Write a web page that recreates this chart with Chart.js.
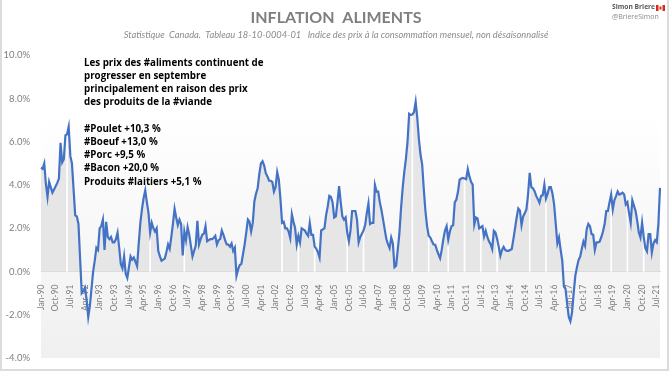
<!DOCTYPE html>
<html>
<head>
<meta charset="utf-8">
<script src="https://cdn.jsdelivr.net/npm/chart.js@4"></script>
<style>
  html, body { margin: 0; padding: 0; background: #fff; }
  #wrap { position: relative; width: 672px; height: 373px; }
  #frame { position: absolute; left: 0; top: 0; width: 665px; height: 369px;
           border-left: 2px solid #dcdcdc; border-right: 2px solid #dcdcdc; border-bottom: 2px solid #dcdcdc; }
</style>
</head>
<body>
<div id="wrap">
  <canvas id="chart" width="672" height="373"></canvas>
  <div id="frame"></div>
</div>
<script>
const inflation = [
  4.8, 4.75, 5.0, 4.05, 3.45, 4.15, 3.9, 3.65, 3.8, 3.95, 4.1, 4.3,
  5.95, 5.05, 5.2, 6.3, 6.35, 6.7, 5.35, 5.0, 3.8, 2.6, 2.55, 2.2,
  0.6, -1.0, -0.9, -0.75, -1.3, -2.1, -1.6, -0.8, 0.0, 0.5, 1.1, 1.0,
  2.0, 2.1, 2.4, 1.0, 2.3, 1.6, 1.5, 1.6, 1.35, 1.35, 1.5, 1.8,
  1.1, 0.35, 0.15, 0.7, -0.1, -0.3, 0.2, 0.7, 0.55, 0.65, 0.45, 0.25,
  1.3, 2.25, 2.9, 3.4, 3.75, 3.2, 2.7, 1.8, 2.25, 2.0, 1.85, 2.0,
  0.95, 0.7, 0.5, 0.55, 0.6, 0.9, 1.25, 1.05, 1.6, 2.2, 2.9, 2.5,
  2.15, 2.4, 2.2, 0.75, 1.85, 1.45, 2.05, 1.7, 1.2, 0.7, 0.95, 1.2,
  2.35, 1.25, 1.5, 1.7, 1.75, 2.1, 1.4, 1.45, 1.5, 1.5, 1.55, 1.65,
  1.25, 1.45, 1.5, 1.9, 1.7, 1.45, 1.25, 1.25, 1.15, 1.3, 0.95, 1.1,
  -0.2, 0.1, 0.3, 0.35, 0.8, 1.25, 1.8, 2.4, 2.3, 1.85, 2.25, 3.25,
  3.6, 3.85, 4.5, 5.0, 5.1, 4.9, 4.55, 4.4, 4.2, 4.2, 4.15, 3.7,
  3.9, 4.6, 4.25, 3.35, 2.25, 2.3, 2.0, 2.0, 1.85, 1.55, 2.65, 2.3,
  2.0, 1.25, 1.65, 1.35, 2.0, 1.95, 1.9, 1.75, 1.65, 2.25, 1.7, 1.7,
  1.15, 1.05, 0.9, 0.65, 1.9, 1.95, 2.0, 2.6, 3.0, 3.5, 3.45, 3.2,
  2.5, 2.55, 3.2, 3.95, 3.2, 2.55, 2.4, 2.5, 1.8, 1.4, 1.9, 2.8,
  2.8, 2.8, 2.4, 1.35, 1.6, 1.75, 1.9, 2.15, 2.7, 3.15, 2.2, 2.25,
  2.25, 4.0, 3.7, 3.7, 3.2, 2.85, 2.4, 1.95, 1.5, 1.27, 1.08, 1.57,
  1.3, 0.2, 0.27, 1.0, 1.75, 2.9, 3.85, 4.6, 5.2, 6.0, 7.3, 7.25,
  7.26, 7.38, 7.85, 7.1, 6.1, 5.4, 4.95, 3.8, 2.8, 2.1, 1.65, 1.57,
  1.4, 1.25, 1.24, 1.0, 0.8, 0.62, 1.0, 1.5, 1.9, 2.1, 1.47, 1.85,
  2.1, 2.14, 3.2, 3.33, 3.7, 4.25, 4.3, 4.33, 4.3, 4.27, 4.74, 4.4,
  4.15, 4.02, 2.18, 2.5, 2.46, 2.0, 2.05, 2.1, 1.62, 1.88, 1.6, 1.4,
  1.27, 1.04, 1.88, 1.8, 1.5, 1.14, 0.73, 1.0, 1.14, 1.0, 0.96, 0.96,
  1.0, 1.04, 1.5, 2.0, 2.5, 2.92, 2.83, 2.14, 2.55, 2.7, 2.87, 3.56,
  4.56, 3.9, 3.85, 3.72, 3.5, 3.35, 3.18, 3.5, 3.53, 4.02, 3.38, 3.6,
  3.9, 3.9, 3.6, 3.1, 2.2, 1.3, 1.57, 1.0, 0.5, -0.7, -0.8, -1.5,
  -2.1, -2.3, -1.9, -1.0, -0.2, 0.2, 0.53, 0.69, 1.05, 1.39, 1.19, 1.96,
  2.2, 2.1, 1.73, 1.7, 1.0, 1.35, 1.35, 1.39, 1.6, 1.85, 2.2, 2.8,
  2.8, 3.2, 3.56, 2.87, 3.3, 3.49, 3.7, 3.56, 3.6, 3.65, 3.56, 3.1,
  3.2, 2.7, 2.26, 3.3, 3.05, 2.8, 2.35, 1.8, 1.57, 2.26, 1.6, 1.08,
  0.93, 1.73, 1.73, 0.88, 1.3, 1.45, 1.35, 2.2, 3.87
];
const monthNames = ["Jan", "Feb", "Mar", "Apr", "May", "Jun", "Jul", "Aug", "Sep", "Oct", "Nov", "Dec"];
const categories = inflation.map((v, i) => monthNames[i % 12] + "-" + String((90 + Math.floor(i / 12)) % 100).padStart(2, "0"));
const gapMonths = [16, 67, 88, 148, 158, 168, 188, 198, 228, 238, 250, 260, 270, 280, 300, 310, 350, 360, 370];
const noteLines = [
  "Les prix des #aliments continuent de",
  "progresser en septembre",
  "principalement en raison des prix",
  "des produits de la #viande",
  "",
  "#Poulet +10,3 %",
  "#Boeuf +13,0 %",
  "#Porc +9,5 %",
  "#Bacon +20,0 %",
  "Produits #laitiers +5,1 %"
];

const decor = {
  id: "decor",
  beforeDraw(chart) {
    const c = chart.ctx, a = chart.chartArea;
    const g = c.createLinearGradient(0, a.top, 0, a.bottom);
    g.addColorStop(0, "#ffffff");
    g.addColorStop(0.2, "#ffffff");
    g.addColorStop(1, "#f0f0f0");
    c.fillStyle = g;
    c.fillRect(a.left, a.top, a.right - a.left, a.bottom - a.top);
  },
  afterDraw(chart) {
    const c = chart.ctx;
    c.save();
    c.textBaseline = "middle";
    c.textAlign = "left";
    c.fillStyle = "#000";
    c.font = "bold 9.75px 'Open Sans'";
    noteLines.forEach((t, i) => c.fillText(t, 84, 63 + i * 13.2));
    c.fillStyle = "#595959";
    c.font = "bold 6.7px 'Open Sans'";
    c.fillText("Simon Briere", 612, 7);
    c.fillStyle = "#8c8c8c";
    c.font = "7px 'Open Sans'";
    c.fillText("@BriereSimon", 612, 17);
    c.fillStyle = "#d52b1e";
    c.fillRect(656, 5, 9, 6);
    c.fillStyle = "#fff";
    c.fillRect(658.5, 5, 4, 6);
    c.fillStyle = "#d52b1e";
    c.fillRect(659.5, 6.5, 2, 3);
    c.restore();
  }
};

new Chart(document.getElementById("chart"), {
  type: "line",
  data: {
    labels: categories,
    datasets: [
      {
        data: inflation,
        order: 3,
        borderWidth: 0,
        pointRadius: 0,
        fill: { target: "origin", above: "#e6e6e6", below: "rgba(0,0,0,0)" }
      },
      {
        type: "bar",
        data: inflation.map((v, i) => (gapMonths.includes(i) ? v : null)),
        order: 2,
        backgroundColor: "#ffffff",
        barThickness: 1
      },
      {
        data: inflation,
        order: 1,
        borderColor: "#4472C4",
        borderWidth: 2.2,
        pointRadius: 0,
        tension: 0,
        fill: false
      }
    ]
  },
  options: {
    responsive: false,
    animation: false,
    layout: { padding: { left: 0, right: 0, bottom: 15 } },
    plugins: {
      legend: { display: false },
      tooltip: { enabled: false },
      title: {
        display: true,
        text: "INFLATION  ALIMENTS",
        color: "#7f7f7f",
        font: { family: "Lato", size: 16, weight: "bold" },
        padding: { top: 8, bottom: 2 }
      },
      subtitle: {
        display: true,
        text: "Statistique  Canada.  Tableau 18-10-0004-01   Indice des prix à la consommation mensuel, non désaisonnalisé",
        color: "#8c8c8c",
        font: { family: "Lato", size: 9.3, style: "italic" },
        padding: { top: 0, bottom: 15 }
      }
    },
    scales: {
      x: {
        position: { y: 0 },
        offset: false,
        grid: { display: false },
        border: { color: "#d9d9d9" },
        ticks: {
          autoSkip: false,
          minRotation: 90,
          maxRotation: 90,
          padding: 5,
          color: "#7f7f7f",
          font: { family: "Lato", size: 8.5 },
          callback(value, index) { return index % 9 === 0 ? categories[index] : null; }
        }
      },
      y: {
        min: -4,
        max: 10,
        afterFit(scale) { scale.width = 41; },
        grid: { display: false },
        border: { display: false },
        ticks: {
          stepSize: 2,
          padding: 3,
          color: "#7f7f7f",
          font: { family: "Lato", size: 9.5 },
          callback(value) { return value.toFixed(1) + "%"; }
        }
      },
      // empty axis, only keeps the plot off the right edge with the title still centred on the page
      rightGap: {
        position: "right",
        min: -4,
        max: 10,
        afterFit(scale) { scale.width = 10; },
        grid: { display: false },
        border: { display: false },
        ticks: { display: false }
      }
    }
  },
  plugins: [decor]
});
</script>
</body>
</html>
